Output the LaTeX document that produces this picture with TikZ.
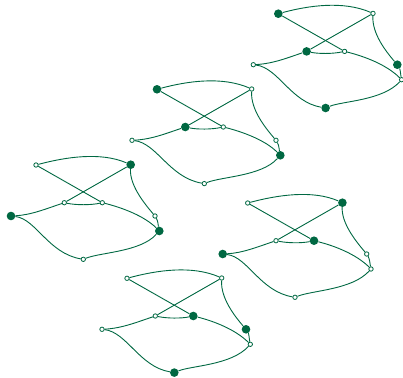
\documentclass[tikz,border=0pt]{standalone}
\definecolor{gc}{RGB}{0,104,66}
\tikzset{
  hol/.style={circle, draw=gc, fill=white, line width=0.8pt, inner sep=0pt, minimum size=4.4pt},
  ful/.style={circle, fill=gc, inner sep=0pt, minimum size=8.6pt},
  edge/.style={draw=gc, line width=0.9pt},
  sA/.style=hol, sB/.style=hol, sC/.style=hol, sD/.style=hol,
  sE/.style=hol, sF/.style=hol, sG/.style=hol, sH/.style=hol
}
\newcommand\gcopy[1]{%
  \node[sA] (#1A) at (36,165) {};
  \node[sB] (#1B) at (130.7,164.7) {};
  \node[sC] (#1C) at (64.3,202.7) {};
  \node[sD] (#1D) at (102.3,202.7) {};
  \node[sE] (#1E) at (11,216) {};
  \node[sF] (#1F) at (155,216) {};
  \node[sG] (#1G) at (159.3,231) {};
  \node[sH] (#1H) at (83.3,259.3) {};
  \draw[edge] (#1A) .. controls +(30,-8) and +(-30,-13) .. (#1B);
  \draw[edge] (#1A) -- (#1D);
  \draw[edge] (#1B) -- (#1C);
  \draw[edge] (#1C) .. controls +(12,2.5) and +(-12,2.5) .. (#1D);
  \draw[edge] (#1E) .. controls +(20,-1) and +(-18,6) .. (#1C);
  \draw[edge] (#1D) .. controls +(20,5) and +(-15,-15) .. (#1G);
  \draw[edge] (#1B) .. controls +(-1,20) and +(-12,-14) .. (#1F);
  \draw[edge] (#1F) .. controls +(3,5) and +(-1,-5) .. (#1G);
  \draw[edge] (#1E) .. controls +(25,3) and +(-35,-6) .. (#1H);
  \draw[edge] (#1H) .. controls +(17,-7) and +(-19,21) .. (#1G);
}
\begin{document}
\begin{tikzpicture}[x=1pt,y=-1pt]
\useasboundingbox (0,0) rectangle (403,377);
\begin{scope}[shift={(242.3,-151.3)}, sA/.style=ful, sC/.style=ful, sF/.style=ful, sH/.style=ful]
  \gcopy{p}
\end{scope}
\begin{scope}[shift={(121,-75.7)}, sA/.style=ful, sC/.style=ful, sG/.style=ful]
  \gcopy{q}
\end{scope}
\begin{scope}[sB/.style=ful, sE/.style=ful, sG/.style=ful]
  \gcopy{r}
\end{scope}
\begin{scope}[shift={(211.7,38)}, sB/.style=ful, sD/.style=ful, sE/.style=ful]
  \gcopy{s}
\end{scope}
\begin{scope}[shift={(91,113.3)}, sD/.style=ful, sF/.style=ful, sH/.style=ful]
  \gcopy{t}
\end{scope}
\end{tikzpicture}
\end{document}
